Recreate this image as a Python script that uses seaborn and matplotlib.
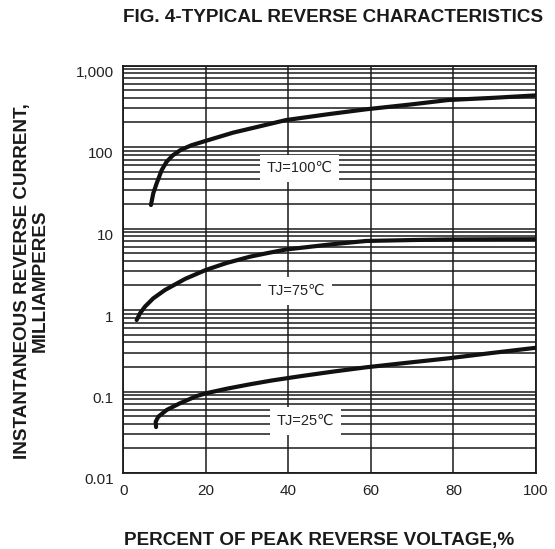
import numpy as np
import pandas as pd
import matplotlib
matplotlib.use("Agg")
import matplotlib.pyplot as plt
import matplotlib.transforms as mtransforms
from matplotlib.ticker import FixedLocator, LogLocator, NullFormatter
import seaborn as sns

# ---- data ----
x_100 = [6.7, 7.26, 8.09, 9.3, 10.5, 12.0, 13.9, 16.5, 20, 26.6, 33, 39.4, 50, 58.8, 70, 78.7, 90, 100]
y_100 = [19.4, 27, 35.9, 52, 66, 79, 92, 105, 119, 150, 179, 214, 254, 290, 334, 377, 402, 430]

x_75 = [3.24, 4.04, 5.25, 7.26, 10.1, 15, 20, 25, 30.7, 35, 39.4, 50, 58.8, 70, 78.7, 90, 100]
y_75 = [0.753, 0.91, 1.10, 1.39, 1.76, 2.41, 3.1, 3.77, 4.51, 5.0, 5.52, 6.36, 7.03, 7.22, 7.33, 7.37, 7.39]

x_25 = [7.94, 7.85, 8.47, 10.5, 13.7, 17.8, 20, 25, 30.7, 36, 42.8, 50.8, 58.8, 68.7, 78.7, 89.3, 100]
y_25 = [0.0366, 0.0426, 0.049, 0.0593, 0.0716, 0.088, 0.095, 0.108, 0.1226, 0.1365, 0.1538,
        0.1754, 0.198, 0.225, 0.255, 0.297, 0.344]

curve_labels = ["TJ=100℃", "TJ=75℃", "TJ=25℃"]
label_x = [42.8, 42.0, 44.2]
label_y = [55, 1.71, 0.0435]

y_ticks = [0.01, 0.1, 1, 10, 100, 1000]
y_ticklabels = ["0.01", "0.1", "1", "10", "100", "1,000"]
x_ticks = [0, 20, 40, 60, 80, 100]

title = "FIG. 4-TYPICAL REVERSE CHARACTERISTICS"
xlabel = "PERCENT OF PEAK REVERSE VOLTAGE,%"
ylabel = "INSTANTANEOUS REVERSE CURRENT,\nMILLIAMPERES"

df = pd.concat([
    pd.DataFrame({"x": x_100, "y": y_100, "curve": curve_labels[0]}),
    pd.DataFrame({"x": x_75, "y": y_75, "curve": curve_labels[1]}),
    pd.DataFrame({"x": x_25, "y": y_25, "curve": curve_labels[2]}),
], ignore_index=True)

sns.set_theme(style="white")
plt.rcParams["font.family"] = ["Liberation Sans", "DejaVu Sans"]

fig = plt.figure(figsize=(5.55, 5.49), dpi=100)
ax = fig.add_axes([123.3 / 555, 1 - 473 / 549, (536 - 123.3) / 555, (473 - 65.5) / 549])

ax.set_yscale("log")
ax.set_xlim(0, 100)
ax.set_ylim(0.01, 1000)

# grid
ax.xaxis.set_major_locator(FixedLocator(x_ticks))
ax.yaxis.set_major_locator(FixedLocator(y_ticks))
ax.yaxis.set_minor_locator(LogLocator(base=10, subs=np.arange(2, 10), numticks=20))
ax.yaxis.set_minor_formatter(NullFormatter())
ax.grid(True, which="major", axis="both", color="#1a1a1a", linewidth=1.1)
ax.grid(True, which="minor", axis="y", color="#1a1a1a", linewidth=1.1)
ax.set_axisbelow(True)

for s in ax.spines.values():
    s.set_color("#1a1a1a")
    s.set_linewidth(1.3)

sns.lineplot(data=df, x="x", y="y", units="curve", estimator=None, sort=False,
             color="#111111", linewidth=3.0, ax=ax, legend=False, zorder=5)
for ln in ax.get_lines():
    ln.set_solid_joinstyle("round")
    ln.set_solid_capstyle("round")

ax.set_yticklabels(y_ticklabels)
ax.set_xticklabels([str(v) for v in x_ticks])
ax.tick_params(axis="both", which="both", length=0, labelsize=11, colors="#222222")
ax.tick_params(axis="y", pad=7)
ax.tick_params(axis="x", pad=8)
offset = mtransforms.ScaledTranslation(0, -6 / 100, fig.dpi_scale_trans)
for lab in ax.get_yticklabels():
    lab.set_transform(lab.get_transform() + offset)

ax.set_xlabel("")
ax.set_ylabel("")

for t, lx, ly in zip(curve_labels, label_x, label_y):
    ax.text(lx, ly, t, ha="center", va="center", fontsize=10.5, color="#222222",
            zorder=4, bbox=dict(boxstyle="square,pad=0.45", fc="white", ec="none"))

fig.text(543 / 555, 1 - 18 / 549, title, ha="right", va="center",
         fontsize=13.6, fontweight="bold", color="#1a1a1a")
fig.text(319 / 555, 1 - 540 / 549, xlabel, ha="center", va="center",
         fontsize=13.6, fontweight="bold", color="#1a1a1a")
fig.text(31.5 / 555, 1 - 281 / 549, ylabel, ha="center", va="center", rotation=90,
         multialignment="center", fontsize=13.6, fontweight="bold", color="#1a1a1a",
         linespacing=1.08)

fig.savefig("out.png", dpi=100, facecolor="white")
